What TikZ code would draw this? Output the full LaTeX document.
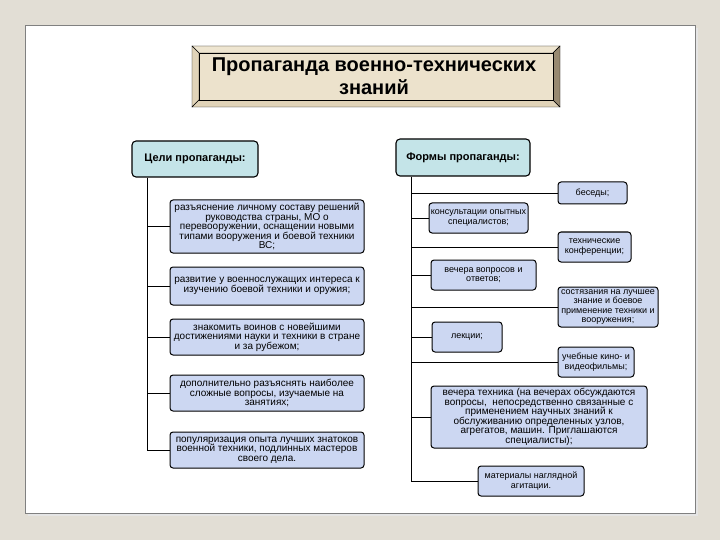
\documentclass[tikz,border=0pt]{standalone}
\usepackage{fontspec}
\setmainfont{Liberation Sans}
\definecolor{pagegray}{RGB}{226,222,213}
\definecolor{headblue}{RGB}{196,228,232}
\definecolor{itemblue}{RGB}{204,215,242}
\definecolor{tanlight}{RGB}{238,229,208}
\definecolor{tanmid}{RGB}{224,211,184}
\definecolor{tandark}{RGB}{152,138,114}
\begin{document}
\begin{tikzpicture}[x=1pt, y=-1pt,
    head/.style={draw, line width=1.1pt, rounded corners=4pt, fill=headblue,
        font=\bfseries\fontsize{11}{12}\selectfont, inner sep=0pt},
    item/.style={draw, line width=1pt, rounded corners=3pt, fill=itemblue,
        font=\fontsize{10}{9.5}\selectfont, align=center, inner sep=0pt},
    small/.style={font=\fontsize{9}{9.5}\selectfont},
    link/.style={line width=0.8pt}]
    \useasboundingbox (0,0) rectangle (720,540);
    \fill[pagegray] (0,0) rectangle (720,540);
    \fill[black!10] (28,28) rectangle (698,516);
    \draw[gray, fill=white] (25,25) rectangle (695,513);

    % title plate
    \draw[fill=tanlight] (192,46) -- (560,46) -- (553,53) -- (199,53) -- cycle;
    \draw[fill=tanmid] (192,46) -- (199,53) -- (199,100) -- (192,107) -- cycle;
    \draw[fill=tanmid] (192,107) -- (199,100) -- (553,100) -- (560,107) -- cycle;
    \draw[fill=tandark] (560,46) -- (560,107) -- (553,100) -- (553,53) -- cycle;
    \draw[thick, fill=tanlight!85!tanmid] (199,53) rectangle (553,100);
    \node[font=\bfseries\fontsize{20}{23}\selectfont, align=center] (title) at (374,76.5)
        {Пропаганда военно-технических\\знаний};

    \coordinate (lbus) at (147,0);
    \coordinate (rbus) at (411,0);

    \node[head, minimum width=126, minimum height=36] (goals) at (195,159) {Цели пропаганды:};
    \node[head, minimum width=134, minimum height=37] (forms) at (463,157.5) {Формы пропаганды:};

    \node[item, minimum width=194, minimum height=53] (g1) at (267,226.5)
        {разъяснение личному составу решений\\руководства страны, МО о\\перевооружении, оснащении новыми\\типами вооружения и боевой техники\\ВС;};
    \node[item, minimum width=194, minimum height=38] (g2) at (267,286)
        {развитие у военнослужащих интереса к\\изучению боевой техники и оружия;};
    \node[item, minimum width=194, minimum height=36] (g3) at (267,337)
        {знакомить воинов с новейшими\\достижениями науки и техники в стране\\и за рубежом;};
    \node[item, minimum width=194, minimum height=36] (g4) at (267,393)
        {дополнительно разъяснять наиболее\\сложные вопросы, изучаемые на\\занятиях;};
    \node[item, minimum width=194, minimum height=36] (g5) at (267,450)
        {популяризация опыта лучших знатоков\\военной техники, подлинных мастеров\\своего дела.};

    \node[item, small, minimum width=69, minimum height=22] (f1) at (592.5,193) {беседы;};
    \node[item, small, minimum width=99, minimum height=30] (f2) at (478.5,218) {консультации опытных\\специалистов;};
    \node[item, small, minimum width=73, minimum height=30] (f3) at (594.5,247) {технические\\конференции;};
    \node[item, small, minimum width=105, minimum height=30] (f4) at (483.5,275) {вечера вопросов и\\ответов;};
    \node[item, small, minimum width=100, minimum height=40] (f5) at (608,307)
        {состязания на лучшее\\знание и боевое\\применение техники и\\вооружения;};
    \node[item, small, minimum width=70, minimum height=30] (f6) at (467,337) {лекции;};
    \node[item, small, minimum width=76, minimum height=30] (f7) at (596,362) {учебные кино- и\\видеофильмы;};
    \node[item, minimum width=216, minimum height=62] (f8) at (539,417)
        {вечера техника (на вечерах обсуждаются\\вопросы,\ \ непосредственно связанные с\\применением научных знаний к\\обслуживанию определенных узлов,\\агрегатов, машин. Приглашаются\\специалисты);};
    \node[item, small, minimum width=106, minimum height=30] (f9) at (531,481) {материалы наглядной\\агитации.};

    \draw[link] (goals.south -| lbus) -- (g5.west -| lbus);
    \foreach \g in {g1,g2,g3,g4,g5}
        \draw[link] (\g.west -| lbus) -- (\g.west);
    \draw[link] (forms.south -| rbus) -- (f9.west -| rbus);
    \foreach \f in {f1,f2,f3,f4,f5,f6,f7,f8,f9}
        \draw[link] (\f.west -| rbus) -- (\f.west);
\end{tikzpicture}
\end{document}
